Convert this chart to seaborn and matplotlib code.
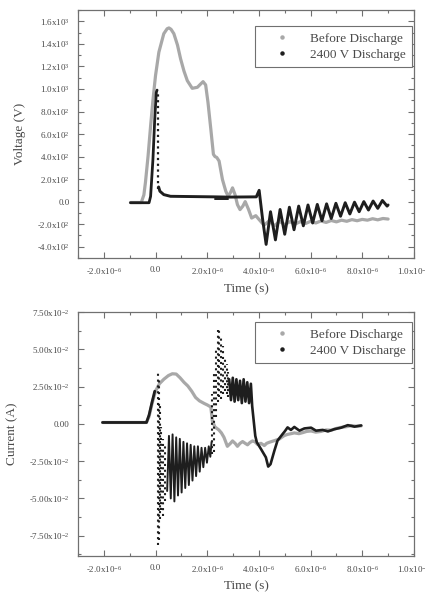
import matplotlib
matplotlib.use("Agg")
import matplotlib.pyplot as plt
from matplotlib.lines import Line2D
from matplotlib.ticker import MultipleLocator, FixedLocator, FixedFormatter
import seaborn as sns
import pandas as pd

# ---------------- data (time in microseconds) ----------------
# Voltage, before discharge (gray)
v_before_t = [-0.97, -0.55, -0.45, -0.39, -0.29, -0.19, -0.10, 0.00, 0.13, 0.32, 0.45, 0.52, 0.60,
              0.71, 0.85, 0.97, 1.10, 1.23, 1.42, 1.62, 1.75, 1.84, 1.94, 2.03, 2.14, 2.24, 2.30,
              2.37, 2.46, 2.59, 2.72, 2.81, 2.90, 2.98, 3.08, 3.17, 3.27, 3.38, 3.47, 3.60, 3.72,
              3.88, 4.01, 4.20, 4.40, 4.60, 4.80, 5.00, 5.20, 5.40, 5.60, 5.80, 6.00, 6.20, 6.40,
              6.60, 6.80, 7.00, 7.20, 7.40, 7.60, 7.80, 8.00, 8.20, 8.40, 8.60, 8.80, 9.00]
v_before_v = [-8, -8, 60, 170, 400, 672, 900, 1119, 1327, 1491, 1535, 1542, 1530,
              1491, 1390, 1268, 1160, 1074, 1006, 1015, 1045, 1065, 1036, 881, 643, 420, 400,
              392, 360, 196, 92, 47, 80, 122, 60, -27, -71, -40, 0, -70, -146,
              -125, -160, -210, -170, -215, -175, -205, -178, -200, -178, -195, -175, -190, -172,
              -185, -168, -180, -165, -175, -160, -170, -158, -165, -152, -162, -150, -155]

# Voltage, 2400 V discharge (black): rise, then decay and ringing
v_after_rise_t = [-0.97, -0.25, -0.19, -0.10, -0.03, 0.03, 0.06]
v_after_rise_v = [-10, -10, 47, 375, 732, 970, 990]
v_after_drop_t = [0.09]
v_after_drop_lo = [110]
v_after_drop_hi = [985]
v_after_t = [0.12, 0.17, 0.32, 0.58, 2.30, 2.80, 3.90, 4.01, 4.14, 4.28, 4.45, 4.64, 4.82, 5.00,
             5.18, 5.36, 5.54, 5.72, 5.90, 6.08, 6.26, 6.44, 6.62, 6.80, 6.98, 7.16, 7.34,
             7.52, 7.70, 7.88, 8.06, 8.24, 8.42, 8.60, 8.78, 8.96, 9.00]
v_after_v = [130, 92, 62, 47, 42, 40, 42, 100, -150, -380, -90, -340, -70, -290,
             -50, -250, -40, -215, -30, -190, -25, -170, -20, -150, -15, -130, -10,
             -110, -5, -90, 0, -75, 5, -60, 10, -40, -30]
v_after_low_t = [2.30, 2.80]
v_after_low_v = [22, 22]

# Current, before discharge (gray)
i_before_t = [-2.05, -0.35, -0.25, -0.13, 0.00, 0.15, 0.32, 0.50, 0.65, 0.80, 0.95, 1.10, 1.25,
              1.40, 1.55, 1.70, 1.88, 2.00, 2.14, 2.20, 2.30, 2.45, 2.55, 2.65, 2.78, 2.90,
              2.98, 3.08, 3.17, 3.27, 3.37, 3.47, 3.56, 3.65, 3.75, 3.85, 3.95, 4.08, 4.21,
              4.30, 4.40, 4.60, 4.79, 4.98, 5.11, 5.25, 5.37, 5.55, 5.70, 5.85, 6.02, 6.20,
              6.41, 6.60, 6.80, 7.00, 7.18, 7.40, 7.57, 7.75, 7.96]
i_before_i = [0.001, 0.001, 0.005, 0.014, 0.022, 0.027, 0.030, 0.0325, 0.0337, 0.0335, 0.031,
              0.028, 0.0255, 0.022, 0.0178, 0.0155, 0.0138, 0.0128, 0.0114, 0.002, -0.002,
              -0.004, -0.006, -0.009, -0.015, -0.013, -0.0114, -0.013, -0.015, -0.013, -0.0118,
              -0.013, -0.014, -0.0125, -0.0114, -0.012, -0.0138, -0.013, -0.0145, -0.013,
              -0.0123, -0.0112, -0.0101, -0.0078, -0.007, -0.0065, -0.006, -0.0065, -0.0058,
              -0.005, -0.0047, -0.0055, -0.005, -0.004, -0.0042, -0.003, -0.0023, -0.0018,
              -0.0011, -0.0015, -0.0013]

# Current, 2400 V discharge (black)
i_after_rise_t = [-2.05, -0.35, -0.25, -0.13, -0.03]
i_after_rise_i = [0.001, 0.001, 0.006, 0.015, 0.022]
i_after_col_t = [0.08, 0.12, 0.16, 0.22, 0.30, 0.38, 2.20, 2.26, 2.33, 2.40, 2.47, 2.54, 2.61,
                 2.68, 2.75, 2.82]
i_after_col_lo = [-0.081, -0.078, -0.064, -0.058, -0.062, -0.052, -0.020, -0.019, 0.005, 0.015,
                  0.018, 0.017, 0.020, 0.022, 0.020, 0.018]
i_after_col_hi = [0.035, 0.030, 0.012, -0.002, -0.010, -0.015, 0.020, 0.035, 0.050, 0.063,
                  0.063, 0.060, 0.052, 0.045, 0.040, 0.035]
i_after_zz1_t = [0.45, 0.52, 0.59, 0.66, 0.73, 0.80, 0.87, 0.94, 1.01, 1.08, 1.15, 1.22, 1.29,
                 1.36, 1.43, 1.50, 1.57, 1.64, 1.71, 1.78, 1.85, 1.92, 1.99, 2.06, 2.12, 2.17]
i_after_zz1_i = [-0.045, -0.008, -0.050, -0.007, -0.052, -0.009, -0.048, -0.010, -0.046, -0.012,
                 -0.043, -0.013, -0.041, -0.014, -0.038, -0.015, -0.035, -0.015, -0.032, -0.016,
                 -0.029, -0.016, -0.026, -0.015, -0.022, -0.012]
i_after_zz2_t = [2.85, 2.92, 2.99, 3.06, 3.13, 3.20, 3.27, 3.34, 3.41, 3.48, 3.55, 3.62, 3.69,
                 3.74, 3.80, 3.86, 3.92, 4.08, 4.27, 4.36, 4.45, 4.60, 4.72, 4.92, 5.00, 5.11,
                 5.24, 5.37, 5.57, 5.76, 6.02, 6.21, 6.47, 6.67, 6.92, 7.18, 7.44, 7.70, 7.96]
i_after_zz2_i = [0.030, 0.016, 0.031, 0.015, 0.030, 0.016, 0.029, 0.014, 0.030, 0.015, 0.028,
                 0.014, 0.027, 0.012, 0.002, -0.008, -0.0123, -0.0168, -0.0224, -0.0286, -0.027,
                 -0.0179, -0.0112, -0.0067, -0.005, -0.0023, -0.004, -0.002, -0.0045, -0.003,
                 -0.0025, -0.0045, -0.004, -0.005, -0.0035, -0.0025, -0.0008, -0.0018, -0.001]

x_ticks = [-2, 0, 2, 4, 6, 8, 10]
x_tick_labels = [r"-2.0x10$^{-6}$", "0.0", r"2.0x10$^{-6}$", r"4.0x10$^{-6}$",
                 r"6.0x10$^{-6}$", r"8.0x10$^{-6}$", r"1.0x10$^{-5}$"]
v_ticks = [-400, -200, 0, 200, 400, 600, 800, 1000, 1200, 1400, 1600]
v_tick_labels = [r"-4.0x10$^{2}$", r"-2.0x10$^{2}$", "0.0", r"2.0x10$^{2}$", r"4.0x10$^{2}$",
                 r"6.0x10$^{2}$", r"8.0x10$^{2}$", r"1.0x10$^{3}$", r"1.2x10$^{3}$",
                 r"1.4x10$^{3}$", r"1.6x10$^{3}$"]
i_ticks = [-0.075, -0.05, -0.025, 0.0, 0.025, 0.05, 0.075]
i_tick_labels = [r"-7.50x10$^{-2}$", r"-5.00x10$^{-2}$", r"-2.50x10$^{-2}$", "0.00",
                 r"2.50x10$^{-2}$", r"5.00x10$^{-2}$", r"7.50x10$^{-2}$"]
series_names = ["Before Discharge", "2400 V Discharge"]

# ---------------- style ----------------
sns.set_style("ticks")
plt.rcParams["font.family"] = ["Liberation Serif", "DejaVu Serif"]
plt.rcParams["mathtext.fontset"] = "custom"
plt.rcParams["mathtext.rm"] = "Liberation Serif"
plt.rcParams["mathtext.it"] = "Liberation Serif"
TXT = "#4a4a4a"
SP = "#707070"
GRAY = "#a8a8a8"
BLACK = "#1e1e1e"

fig = plt.figure(figsize=(4.25, 5.97), dpi=100)
ax1 = fig.add_axes([0.1835, 0.568, 0.7905, 0.415])
ax2 = fig.add_axes([0.1835, 0.069, 0.7905, 0.408])


def line(ax, t, y, color, lw):
    df = pd.DataFrame({"t": t, "y": y})
    sns.lineplot(data=df, x="t", y="y", ax=ax, color=color, lw=lw, sort=False,
                 estimator=None, legend=False)


# top: voltage
line(ax1, v_before_t, v_before_v, GRAY, 2.3)
line(ax1, v_after_rise_t, v_after_rise_v, BLACK, 2.0)
ax1.vlines(v_after_drop_t, v_after_drop_lo, v_after_drop_hi, colors=BLACK, lw=1.6,
           linestyles=(0, (1, 1.6)))
line(ax1, v_after_t, v_after_v, BLACK, 2.1)
line(ax1, v_after_low_t, v_after_low_v, BLACK, 1.4)

# bottom: current
line(ax2, i_before_t, i_before_i, GRAY, 2.3)
line(ax2, i_after_rise_t, i_after_rise_i, BLACK, 2.0)
ax2.vlines(i_after_col_t, i_after_col_lo, i_after_col_hi, colors=BLACK, lw=1.5,
           linestyles=(0, (1, 1.8)))
line(ax2, i_after_zz1_t, i_after_zz1_i, BLACK, 1.4)
line(ax2, i_after_zz2_t, i_after_zz2_i, BLACK, 1.9)


def style(ax, yticks, ylabels, ylim, yminor, ylabel):
    ax.set_xlim(-3, 10)
    ax.set_ylim(*ylim)
    ax.xaxis.set_major_locator(FixedLocator(x_ticks))
    ax.xaxis.set_major_formatter(FixedFormatter(x_tick_labels))
    ax.xaxis.set_minor_locator(MultipleLocator(1))
    ax.yaxis.set_major_locator(FixedLocator(yticks))
    ax.yaxis.set_major_formatter(FixedFormatter(ylabels))
    ax.yaxis.set_minor_locator(MultipleLocator(yminor))
    ax.tick_params(which="both", direction="in", top=True, right=True, colors=SP,
                   labelcolor=TXT, labelsize=6.5, width=0.8)
    ax.tick_params(which="major", length=4, pad=6)
    ax.tick_params(which="minor", length=2)
    for s in ax.spines.values():
        s.set_color(SP)
        s.set_linewidth(0.9)
    ax.set_xlabel("Time (s)", fontsize=9.5, color=TXT, labelpad=4)
    ax.set_ylabel(ylabel, fontsize=9.5, color=TXT, labelpad=8)


style(ax1, v_ticks, v_tick_labels, (-500, 1700), 100, "Voltage (V)")
style(ax2, i_ticks, i_tick_labels, (-0.0885, 0.075), 0.0125, "Current (A)")

handles = [Line2D([], [], ls="none", marker="o", ms=2.2, color=GRAY),
           Line2D([], [], ls="none", marker="o", ms=2.2, color=BLACK)]
for ax, anchor in ((ax1, (0.994, 0.937)), (ax2, (0.994, 0.961))):
    leg = ax.legend(handles, series_names, loc="upper right", bbox_to_anchor=anchor,
                    fancybox=False, framealpha=1, edgecolor=SP, fontsize=9.5,
                    handlelength=3.0, handletextpad=0.6, borderpad=0.5, labelspacing=0.3,
                    borderaxespad=0)
    leg.get_frame().set_linewidth(0.8)
    for tx in leg.get_texts():
        tx.set_color(TXT)

fig.savefig("out.png", dpi=100)
